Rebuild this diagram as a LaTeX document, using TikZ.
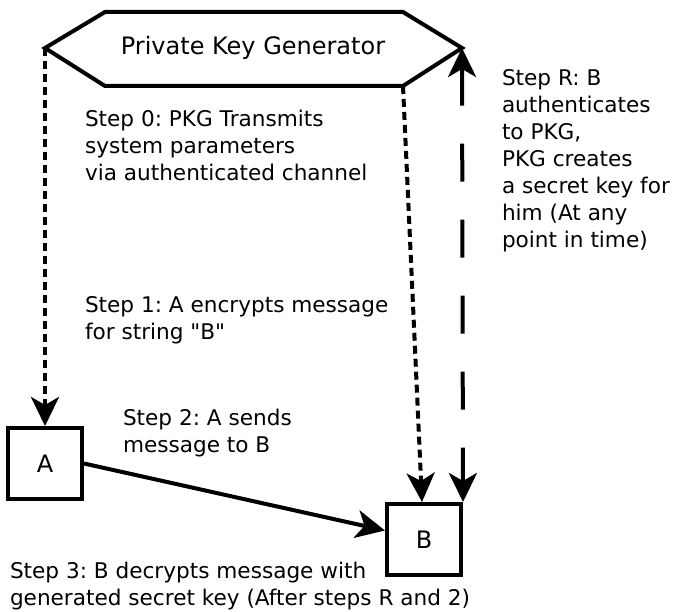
\documentclass[tikz,border=0pt]{standalone}
\usepackage{fontspec}
\setmainfont{DejaVu Sans}[Ligatures=TeXOff]
\usetikzlibrary{arrows.meta}
\frenchspacing
\begin{document}
\begin{tikzpicture}[x=1pt,y=-1pt,
  line width=4pt,
  arr/.tip={Stealth[length=29pt,width=28pt,inset=8pt]},
  tip/.style={-arr},
  box/.style={draw,line width=4pt,minimum width=74pt,minimum height=71pt,inner sep=0pt,font=\fontsize{24}{28}\selectfont},
  lbl/.style={inner sep=0pt,align=left,anchor=west,font=\fontsize{21.6}{27}\selectfont},
  dots/.style={dash pattern=on 8pt off 5pt},
  longdash/.style={dash pattern=on 38pt off 38pt}]
\useasboundingbox (0,0) rectangle (673,612);
% key generator hexagon
\coordinate (hl) at (45,48);
\coordinate (htl) at (105,12);
\coordinate (htr) at (403,12);
\coordinate (hr) at (462,48);
\coordinate (hbr) at (403,86);
\coordinate (hbl) at (105,86);
\draw[line join=miter] (hl) -- (htl) -- (htr) -- (hr) -- (hbr) -- (hbl) -- cycle;
\node[inner sep=0pt,font=\fontsize{24}{28}\selectfont] (pkg) at (253,48) {Private Key Generator};
% parties
\node[box] (A) at (45,463.5) {A};
\node[box] (B) at (424,539.5) {B};
% connectors
\draw[tip,dots] (hl) -- (A.north);
\draw[tip,dots] (hbr) -- ([xshift=-2pt]B.north);
\draw[tip] (A.east) -- ([yshift=9pt]B.west);
\draw[arr-arr,longdash] (hr) -- (B.north east);
% step descriptions
\node[lbl] (s0) at (83,145) {Step 0: PKG Transmits\\system parameters\\via authenticated channel};
\node[lbl] (s1) at (83,320.5) {Step 1: A encrypts message\\for string "B"};
\node[lbl] (s2) at (121,433.5) {Step 2: A sends\\message to B};
\node[lbl] (s3) at (8,586.5) {Step 3: B decrypts message with\\generated secret key (After steps R and 2)};
\node[lbl] (sr) at (500,160.5) {Step R: B\\authenticates\\to PKG,\\PKG creates\\a secret key for\\him (At any\\point in time)};
\end{tikzpicture}
\end{document}
